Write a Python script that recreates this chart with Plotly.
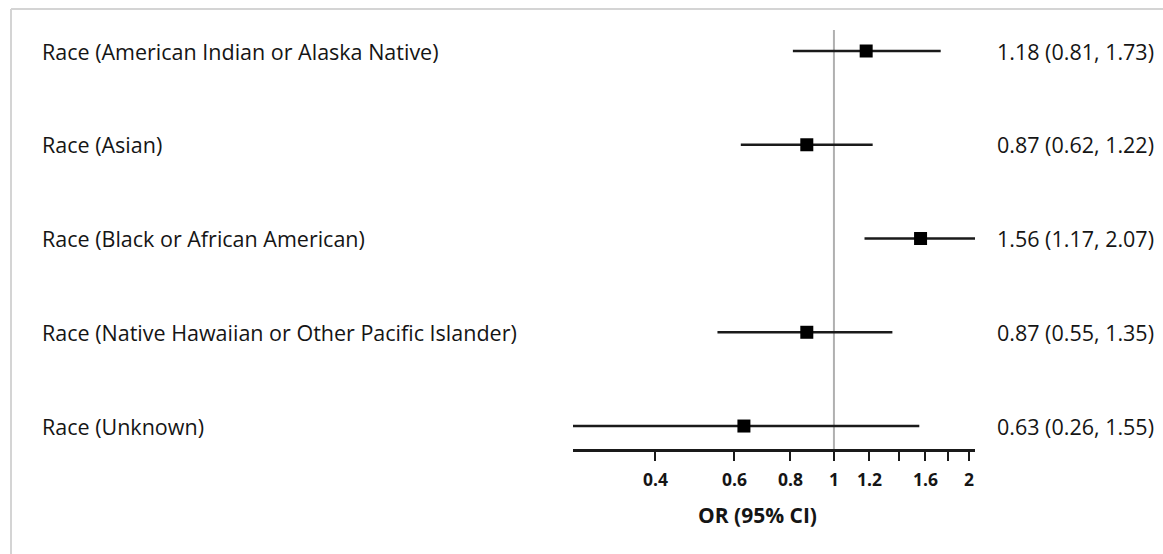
import math
import plotly.graph_objects as go

# ---- data ----
labels = [
    "Race (American Indian or Alaska Native)",
    "Race (Asian)",
    "Race (Black or African American)",
    "Race (Native Hawaiian or Other Pacific Islander)",
    "Race (Unknown)",
]
odds_ratio = [1.18, 0.87, 1.56, 0.87, 0.63]
ci_low = [0.81, 0.62, 1.17, 0.55, 0.26]
ci_high = [1.73, 1.22, 2.07, 1.35, 1.55]
tick_values = [0.4, 0.6, 0.8, 1, 1.2, 1.4, 1.6, 1.8, 2]
tick_labels = ["0.4", "0.6", "0.8", "1", "1.2", "", "1.6", "", "2"]
axis_title = "OR (95% CI)"

# ---- layout constants ----
W, H = 1163, 554
ML, MR, MT, MB = 573, 188, 30, 105
PW, PH = W - ML - MR, H - MT - MB
FONT = "Open Sans"
TXT = "#151515"

def px_to_paper_x(px):
    return (px - ML) / PW

def px_to_paper_y(py):
    return (H - MB - py) / PH

fig = go.Figure()

rows = list(range(len(labels)))
for i in rows:
    fig.add_trace(go.Scatter(
        x=[ci_low[i], ci_high[i]], y=[i, i], mode="lines",
        line=dict(color="#1a1a1a", width=2.5), showlegend=False, hoverinfo="skip",
    ))
fig.add_trace(go.Scatter(
    x=odds_ratio, y=rows, mode="markers",
    marker=dict(symbol="square", size=13, color="black"),
    showlegend=False,
))

annotations = []
for i in rows:
    annotations.append(dict(
        x=px_to_paper_x(40), xref="paper", y=i, yref="y",
        text=labels[i], showarrow=False, xanchor="left", yanchor="middle",
        font=dict(family=FONT, size=21.5, color=TXT),
    ))
    annotations.append(dict(
        x=px_to_paper_x(995), xref="paper", y=i, yref="y",
        text=f"{odds_ratio[i]:.2f} ({ci_low[i]:.2f}, {ci_high[i]:.2f})",
        showarrow=False, xanchor="left", yanchor="middle",
        font=dict(family=FONT, size=21.5, color=TXT),
    ))
annotations.append(dict(
    x=px_to_paper_x(757), xref="paper", y=px_to_paper_y(515), yref="paper",
    text=f"<b>{axis_title}</b>", showarrow=False, xanchor="center", yanchor="middle",
    font=dict(family=FONT, size=21, color=TXT),
))

shapes = [
    # reference line at OR = 1
    dict(type="line", xref="x", yref="paper", x0=1, x1=1, y0=0, y1=1,
         line=dict(color="#b0b0b0", width=2), layer="below"),
    # frame (top & left)
    dict(type="line", xref="paper", yref="paper",
         x0=px_to_paper_x(11), x1=px_to_paper_x(W + 5),
         y0=px_to_paper_y(9), y1=px_to_paper_y(9),
         line=dict(color="#d4d4d4", width=2)),
    dict(type="line", xref="paper", yref="paper",
         x0=px_to_paper_x(11), x1=px_to_paper_x(11),
         y0=px_to_paper_y(9), y1=px_to_paper_y(H + 5),
         line=dict(color="#d4d4d4", width=2)),
]

fig.update_layout(
    width=W, height=H,
    margin=dict(l=ML, r=MR, t=MT, b=MB, pad=0),
    paper_bgcolor="white", plot_bgcolor="white",
    annotations=annotations, shapes=shapes,
    xaxis=dict(
        type="log", range=[math.log10(0.262), math.log10(2.063)],
        tickvals=tick_values, ticktext=tick_labels,
        showline=True, linecolor="#1a1a1a", linewidth=2.5,
        ticks="outside", ticklen=9, tickwidth=2, tickcolor="#1a1a1a",
        showgrid=False, zeroline=False, ticklabelstandoff=4,
        tickfont=dict(family=FONT, size=17.5, color=TXT, weight="bold"),
    ),
    yaxis=dict(
        range=[4.245, -0.224], showticklabels=False, showgrid=False,
        zeroline=False, showline=False,
    ),
)

fig.write_html("out.html")
